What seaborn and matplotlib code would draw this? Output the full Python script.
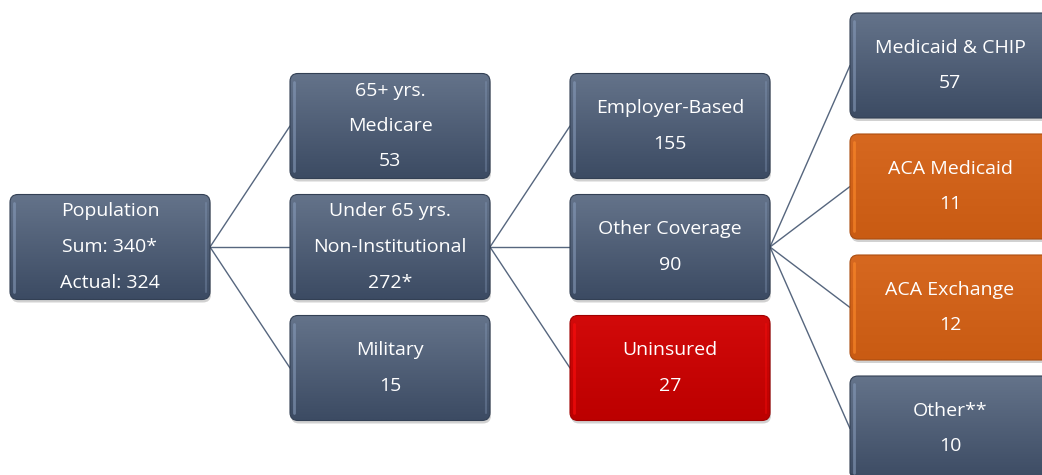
import matplotlib.pyplot as plt
import matplotlib.colors as mcolors
from matplotlib.patches import FancyBboxPatch
import seaborn as sns
import pandas as pd
import numpy as np

# tree nodes
labels = ["Population", "65+ yrs.\nMedicare", "Under 65 yrs.\nNon-Institutional", "Military",
          "Employer-Based", "Other Coverage", "Uninsured",
          "Medicaid & CHIP", "ACA Medicaid", "ACA Exchange", "Other**"]
values = ["Sum: 340*\nActual: 324", "53", "272*", "15",
          "155", "90", "27",
          "57", "11", "12", "10"]
parents = [None, 0, 0, 0, 2, 2, 2, 5, 5, 5, 5]
kinds = ["base", "base", "base", "base", "base", "base", "uninsured",
         "base", "aca", "aca", "base"]

palette = {
    "base": ("#64738a", "#3c4b63"),
    "aca": ("#d66820", "#c95b13"),
    "uninsured": ("#d20a0a", "#bc0000"),
}

W, H = 1042, 475
BOX_W, BOX_H = 200, 105
COL_STEP, ROW_STEP = 280, 121
CENTER_Y = 247
LINE_GAP = 35.5

sns.set_theme(style="white")
plt.rcParams['font.family'] = ['Open Sans', 'DejaVu Sans']

# depth of each node and position among siblings
depth = []
for p in parents:
    depth.append(0 if p is None else depth[p] + 1)
siblings = {}
for i, p in enumerate(parents):
    siblings.setdefault(p, []).append(i)

pos = {}
for i, p in enumerate(parents):
    grp = siblings[p]
    k = grp.index(i)
    n = len(grp)
    cy = (CENTER_Y if p is None else pos[p][1]) + (k - (n - 1) / 2) * ROW_STEP
    x0 = 10 + COL_STEP * depth[i]
    pos[i] = (x0, cy)

fig = plt.figure(figsize=(W / 100, H / 100), dpi=100)
ax = fig.add_axes([0, 0, 1, 1])

# connector lines
rows = []
for i, p in enumerate(parents):
    if p is None:
        continue
    px, py = pos[p]
    cx, cy = pos[i]
    rows.append({"edge": i, "x": px + BOX_W, "y": py})
    rows.append({"edge": i, "x": cx, "y": cy})
edges = pd.DataFrame(rows)
sns.lineplot(data=edges, x="x", y="y", units="edge", estimator=None, sort=False,
             color="#56667e", linewidth=1.0, ax=ax, legend=False)
ax.set_xlim(0, W)
ax.set_ylim(H, 0)
ax.axis('off')

for i in range(len(labels)):
    x0, cy = pos[i]
    y0 = cy - BOX_H / 2
    top, bot = palette[kinds[i]]

    shadow = FancyBboxPatch((x0 + 1, y0 + 3), BOX_W, BOX_H,
                            boxstyle="round,pad=0,rounding_size=8",
                            facecolor="#000000", alpha=0.18, edgecolor="none", zorder=2)
    ax.add_patch(shadow)

    box = FancyBboxPatch((x0, y0), BOX_W, BOX_H,
                         boxstyle="round,pad=0,rounding_size=8",
                         facecolor="none", edgecolor=mcolors.to_hex(np.array(mcolors.to_rgb(bot)) * 0.85),
                         linewidth=0.8, zorder=4)
    ax.add_patch(box)

    cmap = mcolors.LinearSegmentedColormap.from_list("g", [top, bot])
    grad = np.linspace(0, 1, 100).reshape(-1, 1)
    im = ax.imshow(grad, cmap=cmap, extent=(x0, x0 + BOX_W, y0 + BOX_H, y0),
                   aspect='auto', zorder=3, interpolation='bilinear')
    im.set_clip_path(box)

    # bevel highlight on left and right edges
    hl = mcolors.to_hex(np.clip(np.array(mcolors.to_rgb(top)) * 1.35, 0, 1))
    ax.plot([x0 + 4, x0 + 4], [y0 + 8, y0 + BOX_H - 8], color=hl, linewidth=2, alpha=0.6,
            solid_capstyle='round', zorder=4)
    ax.plot([x0 + BOX_W - 4, x0 + BOX_W - 4], [y0 + 8, y0 + BOX_H - 8], color=hl, linewidth=1.5,
            alpha=0.35, solid_capstyle='round', zorder=4)

    lines = (labels[i] + "\n" + values[i]).split("\n")
    n = len(lines)
    for k, t in enumerate(lines):
        ty = cy + (k - (n - 1) / 2) * LINE_GAP
        ax.text(x0 + BOX_W / 2, ty, t, ha='center', va='center', color='white',
                fontsize=14, zorder=5)

fig.savefig("out.png", dpi=100)
